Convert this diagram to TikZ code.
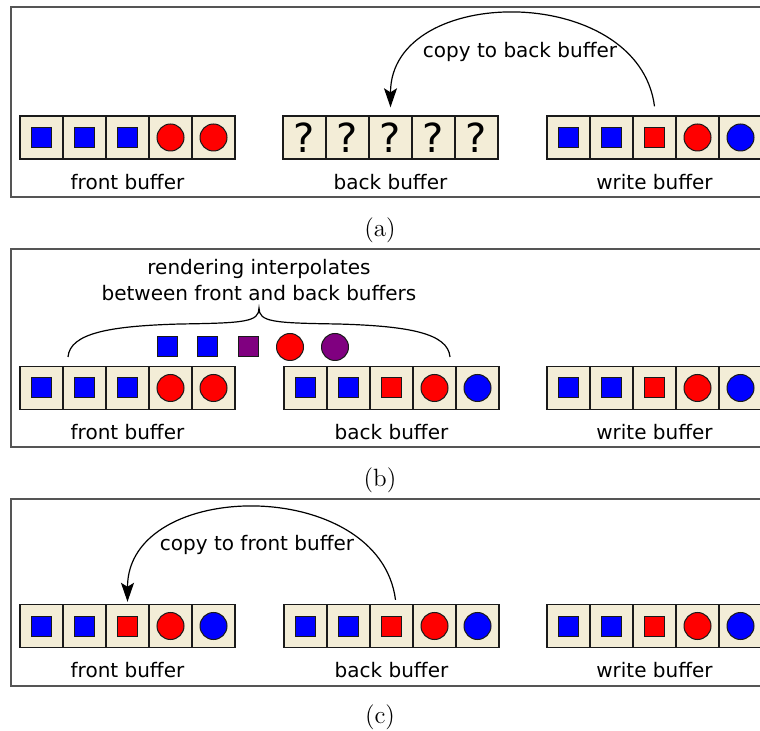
\documentclass[tikz,border=0pt]{standalone}
\usepackage{fontspec}
\newfontfamily\fuenteSans{DejaVu Sans}
\usetikzlibrary{arrows.meta, positioning}
\definecolor{beigeCelda}{HTML}{F3EDD7}
\definecolor{azulPuro}{HTML}{0000FF}
\definecolor{rojoPuro}{HTML}{FF0000}
\definecolor{moradoMezcla}{HTML}{800080}
\definecolor{grisMarco}{HTML}{555555}
\definecolor{negroBorde}{HTML}{1A1A1A}
\tikzset{
  celdaBase/.style={
    draw=negroBorde, line width=0.7pt, fill=beigeCelda,
    minimum size=21.5pt, inner sep=0pt,
    font=\fuenteSans\fontsize{20}{24}\selectfont
  },
  cuadBase/.style={draw=negroBorde, line width=0.5pt, minimum size=10pt, inner sep=0pt},
  cuadAzul/.style={cuadBase, fill=azulPuro},
  cuadRojo/.style={cuadBase, fill=rojoPuro},
  cuadMorado/.style={cuadBase, fill=moradoMezcla},
  circBase/.style={circle, draw=negroBorde, line width=0.5pt, minimum size=13.5pt, inner sep=0pt},
  circAzul/.style={circBase, fill=azulPuro},
  circRojo/.style={circBase, fill=rojoPuro},
  circMorado/.style={circBase, fill=moradoMezcla},
  vacio/.style={inner sep=0pt},
  marcoPanel/.style={draw=grisMarco, line width=0.8pt},
  etiquetaBuffer/.style={font=\fuenteSans\fontsize{10}{12}\selectfont, inner sep=0pt},
  etiquetaFlecha/.style={font=\fuenteSans\fontsize{10}{13}\selectfont, inner sep=0pt, align=center},
  etiquetaPanel/.style={font=\fontsize{12.5}{14}\selectfont},
  flecha/.style={-{Stealth[length=9.5pt, width=6.5pt, inset=2pt]}, line width=0.6pt},
  llave/.style={line width=0.6pt},
}
% fila de cinco celdas: nombre, centro de la primera celda, lista estilo/texto
\newcommand{\filaBuffer}[3]{%
  \foreach \estilo/\texto [count=\i] in {#3}{
    \node[celdaBase, xshift=(\i-1)*21.5pt] (#1-\i) at (#2) {\texto};
    \node[\estilo] (#1-\i-forma) at (#1-\i) {};
  }
}

\begin{document}
\begin{tikzpicture}[x=0.5pt, y=-0.5pt]
  \useasboundingbox (0,0) rectangle (760,731);

  % panel (a)
  \draw[marcoPanel] (11,7) rectangle (765,197);
  \filaBuffer{frenteA}{41.5,137.5}{cuadAzul/{},cuadAzul/{},cuadAzul/{},circRojo/{},circRojo/{}}
  \filaBuffer{fondoA}{304.5,137.5}{vacio/?,vacio/?,vacio/?,vacio/?,vacio/?}
  \filaBuffer{escrituraA}{568.5,137.5}{cuadAzul/{},cuadAzul/{},cuadRojo/{},circRojo/{},circAzul/{}}
  \node[etiquetaBuffer, below=7pt of frenteA-3] (etqFrenteA) {front buffer};
  \node[etiquetaBuffer, below=7pt of fondoA-3] (etqFondoA) {back buffer};
  \node[etiquetaBuffer, below=7pt of escrituraA-3] (etqEscrituraA) {write buffer};
  \draw[flecha] ([yshift=4.5pt]escrituraA-3.north) .. controls +(-8pt,62pt) and +(0pt,62pt) .. ([yshift=4pt]fondoA-3.north);
  \node[etiquetaFlecha] (copiaFondo) at (520,52) {copy to back buffer};
  \node[etiquetaPanel] (leyendaA) at (380,230) {(a)};

  % panel (b)
  \draw[marcoPanel] (11,249) rectangle (765,447);
  \node[etiquetaFlecha] (interpola) at (259,280) {rendering interpolates\\between front and back buffers};
  \coordinate (llaveIzq) at (68,357);
  \coordinate (llavePunta) at (259,308);
  \coordinate (llaveDer) at (450,357);
  \draw[llave] (llaveIzq) .. controls (70,333) and (110,326) .. (180,324)
    .. controls (245,323) and (259,322) .. (llavePunta)
    .. controls (259,322) and (273,323) .. (338,324)
    .. controls (408,326) and (448,333) .. (llaveDer);
  \foreach \estilo/\x [count=\i] in {cuadAzul/167, cuadAzul/207, cuadMorado/248, circRojo/290, circMorado/335}
    \node[\estilo] (mezcla-\i) at (\x,347) {};
  \filaBuffer{frenteB}{41.5,388}{cuadAzul/{},cuadAzul/{},cuadAzul/{},circRojo/{},circRojo/{}}
  \filaBuffer{fondoB}{305.5,388}{cuadAzul/{},cuadAzul/{},cuadRojo/{},circRojo/{},circAzul/{}}
  \filaBuffer{escrituraB}{568.5,388}{cuadAzul/{},cuadAzul/{},cuadRojo/{},circRojo/{},circAzul/{}}
  \node[etiquetaBuffer, below=7pt of frenteB-3] (etqFrenteB) {front buffer};
  \node[etiquetaBuffer, below=7pt of fondoB-3] (etqFondoB) {back buffer};
  \node[etiquetaBuffer, below=7pt of escrituraB-3] (etqEscrituraB) {write buffer};
  \node[etiquetaPanel] (leyendaB) at (380,480) {(b)};

  % panel (c)
  \draw[marcoPanel] (11,499) rectangle (765,686);
  \filaBuffer{frenteC}{41.5,626}{cuadAzul/{},cuadAzul/{},cuadRojo/{},circRojo/{},circAzul/{}}
  \filaBuffer{fondoC}{305.5,626}{cuadAzul/{},cuadAzul/{},cuadRojo/{},circRojo/{},circAzul/{}}
  \filaBuffer{escrituraC}{568.5,626}{cuadAzul/{},cuadAzul/{},cuadRojo/{},circRojo/{},circAzul/{}}
  \node[etiquetaBuffer, below=7pt of frenteC-3] (etqFrenteC) {front buffer};
  \node[etiquetaBuffer, below=7pt of fondoC-3] (etqFondoC) {back buffer};
  \node[etiquetaBuffer, below=7pt of escrituraC-3] (etqEscrituraC) {write buffer};
  \draw[flecha] ([xshift=2pt, yshift=2pt]fondoC-3.north) .. controls +(-8pt,62pt) and +(0pt,62pt) .. ([yshift=1pt]frenteC-3.north);
  \node[etiquetaFlecha] (copiaFrente) at (257,545) {copy to front buffer};
  \node[etiquetaPanel] (leyendaC) at (380,717) {(c)};
\end{tikzpicture}
\end{document}
